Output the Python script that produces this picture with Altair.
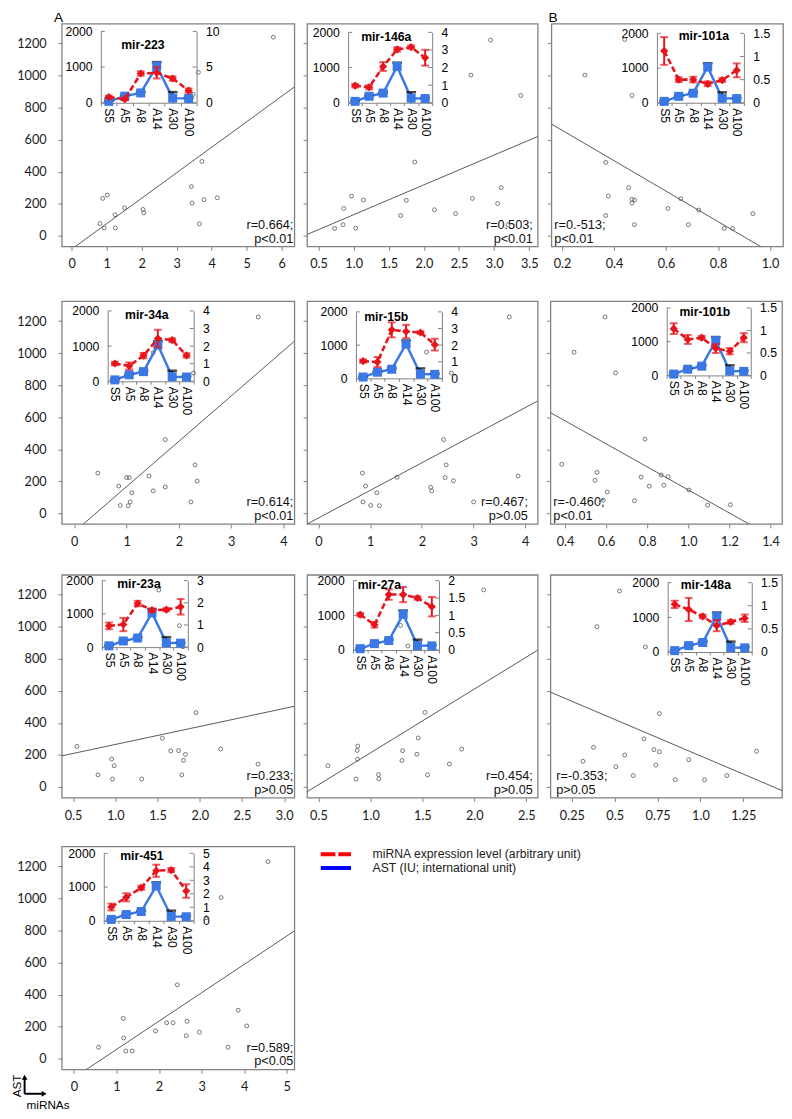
import altair as alt
import pandas as pd

# ---------------- data ----------------
CATS = ["S5", "A5", "A8", "A14", "A30", "A100"]
AST_MEAN = [40, 185, 275, 1030, 130, 120]
AST_ERR = [15, 20, 25, 110, 170, 20]
AST_TICKS = [0, 1000, 2000]
MAIN_Y_TICKS = [0, 200, 400, 600, 800, 1000, 1200]
LEGEND_LABELS = ["miRNA expression level (arbitrary unit)", "AST (IU; international unit)"]

mir223_x = [0.81, 0.89, 1.02, 0.93, 1.24, 1.25, 1.51, 2.04, 2.06, 3.42, 3.44, 3.72, 3.78, 3.65, 4.16, 3.62, 3.47, 5.76]
mir223_y = [76, 233, 254, 49, 131, 49, 174, 164, 143, 307, 204, 464, 225, 74, 237, 1020, 883, 1240]
mir223_expr = [0.8, 0.5, 4.1, 4.2, 3.4, 1.7]
mir223_err = [0.2, 0.15, 0.3, 0.8, 0.3, 0.3]

mir146a_x = [2.95, 2.67, 3.38, 1.87, 3.10, 0.97, 1.14, 0.86, 2.69, 1.75, 3.05, 2.15, 2.45, 1.67, 0.85, 0.73, 1.03, 3.20]
mir146a_y = [1222, 1003, 876, 460, 300, 247, 223, 170, 233, 221, 201, 162, 138, 126, 69, 45, 47, 69]
mir146a_expr = [0.97, 0.88, 2.06, 3.03, 3.16, 2.56]
mir146a_err = [0.1, 0.12, 0.25, 0.12, 0.1, 0.45]

mir101a_x = [0.441, 0.288, 0.469, 0.368, 0.456, 0.378, 0.479, 0.469, 0.469, 0.657, 0.607, 0.726, 0.934, 0.368, 0.478, 0.686, 0.824, 0.856]
mir101a_y = [1226, 1003, 876, 458, 300, 247, 223, 203, 227, 231, 170, 160, 138, 126, 69, 69, 45, 45]
mir101a_expr = [1.12, 0.5, 0.5, 0.41, 0.49, 0.7]
mir101a_err = [0.3, 0.05, 0.06, 0.05, 0.04, 0.15]

mir34a_x = [3.52, 1.51, 2.28, 1.74, 0.45, 1.00, 1.05, 2.31, 2.35, 1.43, 0.85, 1.74, 1.10, 1.51, 0.88, 1.03, 1.07, 2.23]
mir34a_y = [1226, 1003, 876, 460, 251, 223, 223, 302, 201, 233, 170, 164, 128, 140, 49, 47, 71, 71]
mir34a_expr = [1.01, 0.87, 1.46, 2.43, 2.34, 1.47]
mir34a_err = [0.1, 0.2, 0.15, 0.5, 0.1, 0.12]

mir15b_x = [3.69, 2.09, 2.57, 2.42, 0.85, 2.47, 3.86, 1.52, 2.45, 2.61, 0.91, 2.17, 2.19, 1.13, 0.86, 3.00, 1.01, 1.18]
mir15b_y = [1226, 1007, 876, 460, 251, 302, 233, 225, 223, 203, 170, 162, 140, 128, 71, 71, 49, 47]
mir15b_expr = [1.04, 0.98, 2.92, 2.82, 2.76, 2.03]
mir15b_err = [0.1, 0.3, 0.45, 0.4, 0.08, 0.35]

mir101b_x = [0.595, 0.444, 0.646, 0.789, 0.384, 0.556, 0.546, 0.770, 0.868, 0.902, 0.606, 0.810, 0.881, 1.003, 0.738, 0.586, 1.094, 1.205]
mir101b_y = [1226, 1006, 877, 463, 306, 255, 206, 226, 239, 228, 133, 169, 175, 145, 78, 82, 51, 53]
mir101b_expr = [1.04, 0.8, 0.84, 0.6, 0.54, 0.84]
mir101b_err = [0.12, 0.1, 0.04, 0.1, 0.07, 0.1]

mir23a_x = [1.515, 1.76, 1.80, 1.956, 0.546, 1.557, 1.657, 1.749, 1.83, 2.247, 0.956, 1.807, 0.987, 2.69, 0.795, 1.787, 0.967, 1.312]
mir23a_y = [1230, 1007, 876, 464, 253, 304, 225, 227, 203, 237, 174, 166, 132, 142, 75, 75, 49, 49]
mir23a_expr = [0.96, 1.02, 1.97, 1.67, 1.69, 1.82]
mir23a_err = [0.15, 0.3, 0.12, 0.08, 0.07, 0.35]

mir27a_x = [2.09, 1.29, 1.36, 1.525, 0.59, 0.878, 0.872, 0.875, 1.46, 1.31, 1.447, 1.878, 1.303, 1.76, 0.862, 1.078, 1.081, 1.55]
mir27a_y = [1231, 1009, 880, 465, 132, 255, 228, 173, 306, 226, 204, 236, 165, 143, 49, 77, 51, 75]
mir27a_expr = [1.02, 0.73, 1.6, 1.6, 1.5, 1.25]
mir27a_err = [0.05, 0.08, 0.15, 0.22, 0.05, 0.28]

mir148a_x = [0.528, 0.396, 0.679, 0.761, 0.376, 0.670, 0.729, 0.761, 0.558, 1.327, 0.315, 0.932, 0.507, 0.740, 0.608, 1.154, 0.853, 1.024]
mir148a_y = [1224, 1001, 874, 458, 247, 300, 233, 219, 199, 223, 160, 170, 126, 136, 71, 71, 45, 45]
mir148a_expr = [1.03, 0.92, 0.77, 0.57, 0.65, 0.73]
mir148a_err = [0.08, 0.25, 0.04, 0.12, 0.04, 0.08]

mir451_x = [4.56, 3.46, 3.11, 2.43, 1.16, 2.18, 2.33, 2.66, 3.86, 4.06, 1.92, 2.95, 1.17, 2.64, 0.58, 3.62, 1.22, 1.37]
mir451_y = [1231, 1006, 880, 461, 251, 224, 224, 233, 302, 204, 173, 165, 129, 143, 71, 71, 47, 47]
mir451_expr = [1.02, 1.74, 2.45, 3.71, 3.76, 2.21]
mir451_err = [0.25, 0.3, 0.15, 0.45, 0.15, 0.5]

PANELS = [
    dict(name="mir-223", x=mir223_x, y=mir223_y, expr=mir223_expr, err=mir223_err,
         rmax=10, rticks=[0, 5, 10], xdom=[-0.28, 6.36], xticks=[0, 1, 2, 3, 4, 5, 6], xfmt="d",
         stats=["r=0.664;", "p<0.01"]),
    dict(name="mir-146a", x=mir146a_x, y=mir146a_y, expr=mir146a_expr, err=mir146a_err,
         rmax=4, rticks=[0, 1, 2, 3, 4], xdom=[0.337, 3.62], xticks=[0.5, 1.0, 1.5, 2.0, 2.5, 3.0, 3.5], xfmt=".1f",
         stats=["r=0.503;", "p<0.01"]),
    dict(name="mir-101a", x=mir101a_x, y=mir101a_y, expr=mir101a_expr, err=mir101a_err,
         rmax=1.5, rticks=[0, 0.5, 1, 1.5], xdom=[0.159, 1.05], xticks=[0.2, 0.4, 0.6, 0.8, 1.0], xfmt=".1f",
         stats=["r=0.-513;", "p<0.01"]),
    dict(name="mir-34a", x=mir34a_x, y=mir34a_y, expr=mir34a_expr, err=mir34a_err,
         rmax=4, rticks=[0, 1, 2, 3, 4], xdom=[-0.24, 4.21], xticks=[0, 1, 2, 3, 4], xfmt="d",
         stats=["r=0.614;", "p<0.01"]),
    dict(name="mir-15b", x=mir15b_x, y=mir15b_y, expr=mir15b_expr, err=mir15b_err,
         rmax=4, rticks=[0, 1, 2, 3, 4], xdom=[-0.22, 4.24], xticks=[0, 1, 2, 3, 4], xfmt="d",
         stats=["r=0.467;", "p>0.05"]),
    dict(name="mir-101b", x=mir101b_x, y=mir101b_y, expr=mir101b_expr, err=mir101b_err,
         rmax=1.5, rticks=[0, 0.5, 1, 1.5], xdom=[0.329, 1.456], xticks=[0.4, 0.6, 0.8, 1.0, 1.2, 1.4], xfmt=".1f",
         stats=["r=-0.460;", "p<0.01"]),
    dict(name="mir-23a", x=mir23a_x, y=mir23a_y, expr=mir23a_expr, err=mir23a_err,
         rmax=3, rticks=[0, 1, 2, 3], xdom=[0.366, 3.12], xticks=[0.5, 1.0, 1.5, 2.0, 2.5, 3.0], xfmt=".1f",
         stats=["r=0.233;", "p>0.05"]),
    dict(name="mir-27a", x=mir27a_x, y=mir27a_y, expr=mir27a_expr, err=mir27a_err,
         rmax=2, rticks=[0, 0.5, 1, 1.5, 2], xdom=[0.39, 2.61], xticks=[0.5, 1.0, 1.5, 2.0, 2.5], xfmt=".1f",
         stats=["r=0.454;", "p>0.05"]),
    dict(name="mir-148a", x=mir148a_x, y=mir148a_y, expr=mir148a_expr, err=mir148a_err,
         rmax=1.5, rticks=[0, 0.5, 1, 1.5], xdom=[0.125, 1.476], xticks=[0.25, 0.5, 0.75, 1.0, 1.25],
         xexpr="datum.value == 1 ? '1.0' : format(datum.value, '.2~f')",
         stats=["r=-0.353;", "p>0.05"]),
    dict(name="mir-451", x=mir451_x, y=mir451_y, expr=mir451_expr, err=mir451_err,
         rmax=5, rticks=[0, 1, 2, 3, 4, 5], xdom=[-0.285, 5.18], xticks=[0, 1, 2, 3, 4, 5], xfmt="d",
         stats=["r=0.589;", "p<0.05"]),
]

# ---------------- layout (pixels, relative to each panel frame) ----------------
LAYOUT = [
    dict(inset=(40, 8, 138, 81), tcx=83, tby=26, side="right", tdx=1, tag="A", tagx=-8),
    dict(inset=(42, 9, 128, 81), tcx=81, tby=18, side="right", tdx=5),
    dict(inset=(108, 10, 197, 81), tcx=156, tby=17, side="left", tdx=3, tag="B", tagx=-3),
    dict(inset=(47, 10, 135, 82), tcx=87, tby=18, side="right", tdx=1),
    dict(inset=(50, 11, 138, 79), tcx=81, tby=20, side="right", tdx=10),
    dict(inset=(119, 7, 205, 76), tcx=158, tby=15, side="left", tdx=3),
    dict(inset=(41, 6, 129, 74), tcx=79, tby=13, side="right", tdx=1),
    dict(inset=(47, 6, 135, 77), tcx=74, tby=15, side="right", tdx=5),
    dict(inset=(120, 8, 206, 79), tcx=159, tby=15, side="left", tdx=6),
    dict(inset=(43, 7, 135, 76), tcx=82, tby=14, side="right", tdx=1),
]

H = 228
COL_W = [238, 236, 237]
COL_SPACING = 4
ROW_MINEXT = [54, 50, 48, 0]
Y_DOM = [-67, 1325]
RED = "#e8141c"
BLUE = "#3a78e6"
GREY = "#808080"
PT = "#555555"
F_MAIN = "Lato"
F_ARIAL = "Liberation Sans"
ONE = pd.DataFrame({"k": [0]})


def x_axis(s, row):
    kw = dict(values=s["xticks"], tickSize=4, tickColor=GREY, domain=False, grid=False, title=None,
              labelFont=F_MAIN, labelFontSize=13, labelColor="#1a1a1a", labelPadding=8,
              labelFlush=False, labelOverlap=False, minExtent=ROW_MINEXT[row])
    if "xexpr" in s:
        kw["labelExpr"] = s["xexpr"]
    else:
        kw["format"] = s["xfmt"]
    return alt.Axis(**kw)


def y_axis(col):
    if col == 0:
        return alt.Axis(values=MAIN_Y_TICKS, format="d", tickSize=4, tickColor=GREY, domain=False,
                        grid=False, title=None, labelFont=F_MAIN, labelFontSize=13,
                        labelColor="#1a1a1a", labelPadding=12, labelFlush=False, minExtent=52)
    return alt.Axis(values=MAIN_Y_TICKS, labels=False, tickSize=4, tickColor=GREY, domain=False,
                    grid=False, title=None)


def make_panel(i):
    s = PANELS[i]
    L = LAYOUT[i]
    row, col = divmod(i, 3)
    W = COL_W[col]

    # ---- main scatter + regression ----
    pts_df = pd.DataFrame({"x": s["x"], "y": s["y"]})
    xs = alt.Scale(domain=s["xdom"], nice=False, zero=False)
    ys = alt.Scale(domain=Y_DOM, nice=False, zero=False)
    base = alt.Chart(pts_df)
    pts = base.mark_point(shape="circle", filled=False, size=16, color=PT, strokeWidth=0.8, opacity=1).encode(
        x=alt.X("x:Q", scale=xs, axis=x_axis(s, row)),
        y=alt.Y("y:Q", scale=ys, axis=y_axis(col)),
    )
    reg = base.transform_regression("x", "y", extent=s["xdom"]).mark_line(
        clip=True, color="#444444", strokeWidth=0.9).encode(
        x=alt.X("x:Q", scale=xs, axis=None),
        y=alt.Y("y:Q", scale=ys, axis=None),
    )

    # ---- inset ----
    x0, y0, x1, y1 = L["inset"]
    xb = alt.Scale(type="band", domain=CATS, range=[x0, x1], paddingInner=0, paddingOuter=0)
    yl = alt.Scale(domain=[0, 2000], range=[y1, y0], nice=False, zero=False)
    yr = alt.Scale(domain=[0, s["rmax"]], range=[y1, y0], nice=False, zero=False)

    ast_df = pd.DataFrame({
        "cat": CATS, "v": AST_MEAN,
        "lo": [max(0, m - e) for m, e in zip(AST_MEAN, AST_ERR)],
        "hi": [m + e for m, e in zip(AST_MEAN, AST_ERR)],
    })
    red_df = pd.DataFrame({
        "cat": CATS, "v": s["expr"],
        "lo": [m - e for m, e in zip(s["expr"], s["err"])],
        "hi": [m + e for m, e in zip(s["expr"], s["err"])],
    })

    xax = alt.Axis(orient="bottom", offset=y1 - H, labelAngle=90, tickBand="extent", tickSize=3,
                   tickColor=GREY, domainColor=GREY, labelFont=F_ARIAL, labelFontSize=12.5,
                   labelColor="black", labelPadding=2, title=None, grid=False)
    lax = alt.Axis(orient="left", offset=-x0, values=AST_TICKS, format="d", ticks=False, tickSize=0,
                   labelPadding=9, domainColor=GREY, labelFont=F_ARIAL, labelFontSize=12.5,
                   labelColor="black", title=None, grid=False, labelFlush=False)
    rax = alt.Axis(orient="right", offset=x1 - W, values=s["rticks"], labelExpr="datum.value + ''",
                   ticks=False, tickSize=0, labelPadding=9, domainColor=GREY, labelFont=F_ARIAL,
                   labelFontSize=12.5, labelColor="black", title=None, grid=False, labelFlush=False)

    XB = alt.X("cat:N", scale=xb, axis=xax, sort=CATS)
    XN = alt.X("cat:N", scale=xb, axis=None, sort=CATS)

    bb = alt.Chart(ast_df)
    b_line = bb.mark_line(color=BLUE, strokeWidth=2.5).encode(x=XB, y=alt.Y("v:Q", scale=yl, axis=lax))
    b_err = bb.mark_rule(color="black", strokeWidth=1.5).encode(
        x=XN, y=alt.Y("lo:Q", scale=yl, axis=None), y2="hi:Q")
    b_cap_hi = bb.mark_tick(color="black", orient="horizontal", size=10, thickness=2.5).encode(
        x=XN, y=alt.Y("hi:Q", scale=yl, axis=None))
    b_sq = bb.mark_square(color=BLUE, size=85, opacity=1).encode(x=XN, y=alt.Y("v:Q", scale=yl, axis=None))
    lt = alt.Chart(pd.DataFrame({"t": AST_TICKS})).mark_rule(color=GREY, strokeWidth=1).encode(
        x=alt.value(x0), x2=alt.value(x0 + 4), y=alt.Y("t:Q", scale=yl, axis=None))

    rb = alt.Chart(red_df)
    r_line = rb.mark_line(color=RED, strokeWidth=2.6, strokeDash=[6, 3]).encode(
        x=XN, y=alt.Y("v:Q", scale=yr, axis=rax))
    r_err = rb.mark_rule(color=RED, strokeWidth=2).encode(
        x=XN, y=alt.Y("lo:Q", scale=yr, axis=None), y2="hi:Q")
    r_cap_lo = rb.mark_tick(color=RED, orient="horizontal", size=8, thickness=2).encode(
        x=XN, y=alt.Y("lo:Q", scale=yr, axis=None))
    r_cap_hi = rb.mark_tick(color=RED, orient="horizontal", size=8, thickness=2).encode(
        x=XN, y=alt.Y("hi:Q", scale=yr, axis=None))
    r_pt = rb.mark_point(shape="diamond", filled=True, size=70, color=RED, opacity=1).encode(
        x=XN, y=alt.Y("v:Q", scale=yr, axis=None))
    rt = alt.Chart(pd.DataFrame({"t": s["rticks"]})).mark_rule(color=GREY, strokeWidth=1).encode(
        x=alt.value(x1 - 4), x2=alt.value(x1), y=alt.Y("t:Q", scale=yr, axis=None))

    # ---- texts ----
    title = alt.Chart(ONE).mark_text(align="center", baseline="alphabetic", font=F_ARIAL,
                                     fontWeight="bold", fontSize=12.5, color="black").encode(
        x=alt.value(L["tcx"]), y=alt.value(L["tby"]), text=alt.value(s["name"]))
    if L["side"] == "right":
        st = alt.Chart(ONE).mark_text(align="right", baseline="alphabetic", font=F_ARIAL, fontSize=13,
                                      lineHeight=14, color="#111111").encode(
            x=alt.value(W - L["tdx"]), y=alt.value(H - 18), text=alt.value(s["stats"]))
    else:
        st = alt.Chart(ONE).mark_text(align="left", baseline="alphabetic", font=F_ARIAL, fontSize=13,
                                      lineHeight=14, color="#111111").encode(
            x=alt.value(L["tdx"]), y=alt.value(H - 18), text=alt.value(s["stats"]))

    layers = [reg, pts, b_line, lt, b_err, b_cap_hi, b_sq,
              rt, r_line, r_err, r_cap_lo, r_cap_hi, r_pt, title, st]

    if "tag" in L:
        layers.append(alt.Chart(ONE).mark_text(align="left", baseline="alphabetic", font=F_ARIAL,
                                               fontSize=14, color="black").encode(
            x=alt.value(L["tagx"]), y=alt.value(-2), text=alt.value(L["tag"])))

    if i == 9:
        leg_df = pd.DataFrame({"label": LEGEND_LABELS})
        ly = alt.Y("label:N", scale=alt.Scale(type="point", domain=LEGEND_LABELS, range=[8, 22], padding=0),
                   axis=None)
        leg_sw = alt.Chart(leg_df).mark_rule(strokeWidth=4).encode(
            x=alt.value(265), x2=alt.value(296), y=ly,
            color=alt.Color("label:N", scale=alt.Scale(domain=LEGEND_LABELS, range=["#ff0000", "#0000ff"]),
                            legend=None),
            strokeDash=alt.StrokeDash("label:N", scale=alt.Scale(domain=LEGEND_LABELS, range=[[15, 3], [1, 0]]),
                                      legend=None),
        )
        leg_tx = alt.Chart(leg_df).mark_text(align="left", baseline="middle", font=F_ARIAL, fontSize=12.5,
                                             color="#222222").encode(
            x=alt.value(318), y=ly, text="label:N")
        ast_t = alt.Chart(ONE).mark_text(align="center", baseline="middle", angle=270, font=F_ARIAL,
                                         fontSize=12, color="black").encode(
            x=alt.value(-46), y=alt.value(245), text=alt.value("AST"))
        v_ar = alt.Chart(ONE).mark_rule(color="black", strokeWidth=2).encode(
            x=alt.value(-38), y=alt.value(253), y2=alt.value(237))
        h_ar = alt.Chart(ONE).mark_rule(color="black", strokeWidth=2).encode(
            x=alt.value(-38), x2=alt.value(-19), y=alt.value(253))
        up = alt.Chart(ONE).mark_point(shape="triangle-up", filled=True, size=35, color="black", opacity=1).encode(
            x=alt.value(-38), y=alt.value(236))
        rt_ = alt.Chart(ONE).mark_point(shape="triangle-right", filled=True, size=35, color="black", opacity=1).encode(
            x=alt.value(-18), y=alt.value(253))
        mi = alt.Chart(ONE).mark_text(align="left", baseline="alphabetic", font=F_ARIAL, fontSize=12,
                                      color="black").encode(
            x=alt.value(-36), y=alt.value(269), text=alt.value("miRNAs"))
        layers += [leg_sw, leg_tx, ast_t, v_ar, h_ar, up, rt_, mi]

    return alt.layer(*layers).resolve_scale(x="independent", y="independent").properties(width=W, height=H)


panels = [make_panel(i) for i in range(10)]
rows = [
    alt.hconcat(panels[0], panels[1], panels[2], spacing=COL_SPACING),
    alt.hconcat(panels[3], panels[4], panels[5], spacing=COL_SPACING),
    alt.hconcat(panels[6], panels[7], panels[8], spacing=COL_SPACING),
    panels[9],
]
chart = alt.vconcat(*rows, spacing=0).properties(
    padding={"left": 2, "top": -11, "right": 0, "bottom": 0}, background="white"
).configure_view(stroke=GREY, strokeWidth=1.3)

chart.save("out.html", embed_options={"renderer": "svg", "actions": False})
